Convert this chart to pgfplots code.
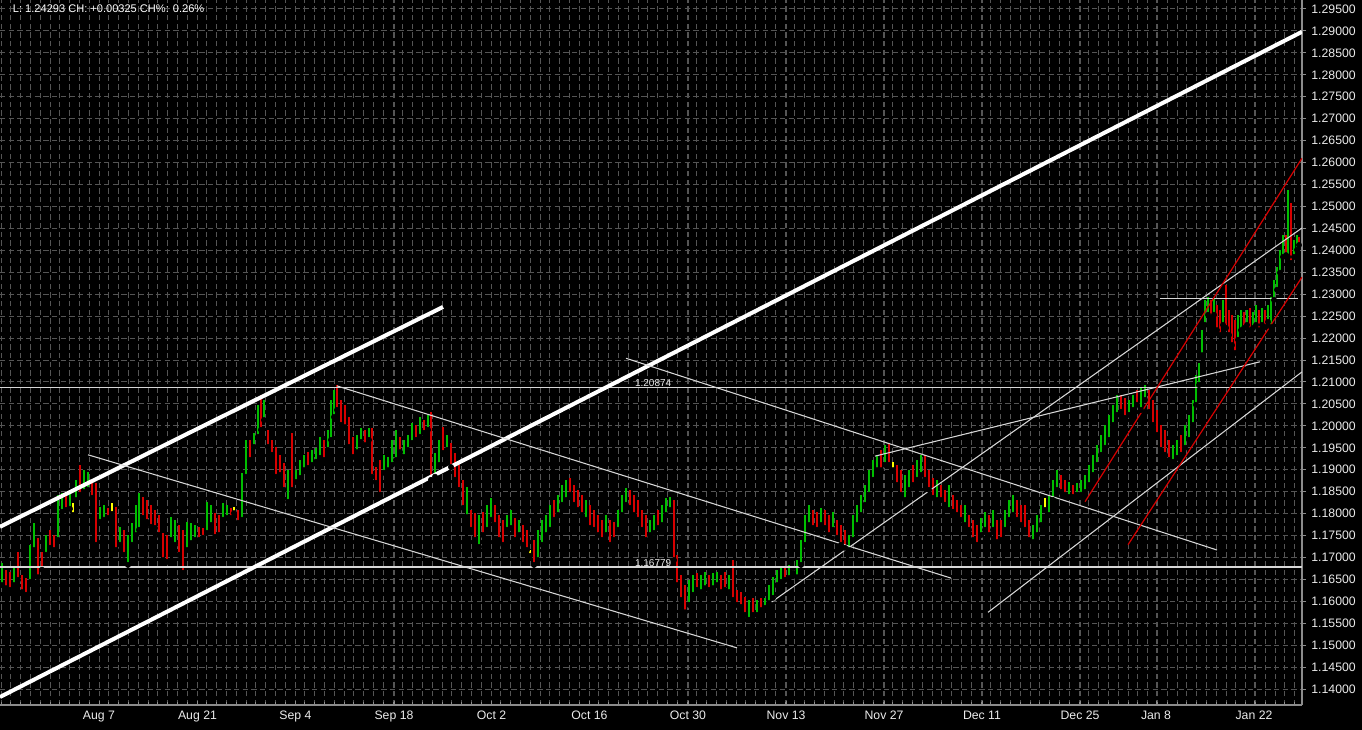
\documentclass[border=0pt]{standalone}
\usepackage{pgfplots}
\pgfplotsset{compat=1.18}
\usepackage{pgfplotstable}
\usepackage{fontspec}
\setmainfont{Liberation Sans}
\definecolor{cgreen}{RGB}{0,190,0}
\definecolor{cred}{RGB}{215,0,0}
\definecolor{cyellow}{RGB}{255,255,0}
\definecolor{gridc}{RGB}{85,85,85}
\definecolor{axc}{RGB}{140,140,140}
\definecolor{txt}{RGB}{235,235,235}
\definecolor{linec}{RGB}{215,215,215}

\pgfplotstableread{
x lo hi
2 1.1637 1.1687
14 1.1637 1.1676
30 1.1644 1.1729
34 1.1717 1.1779
46 1.1706 1.1751
58 1.1740 1.1843
62 1.1804 1.1847
70 1.1811 1.1847
76 1.1831 1.1877
84 1.1849 1.1899
88 1.1854 1.1895
100 1.1781 1.1815
104 1.1786 1.1820
120 1.1729 1.1770
128 1.1683 1.1751
132 1.1729 1.1779
136 1.1751 1.1820
139 1.1763 1.1847
171 1.1740 1.1792
175 1.1729 1.1786
187 1.1717 1.1781
191 1.1733 1.1779
195 1.1740 1.1774
207 1.1756 1.1827
211 1.1774 1.1820
223 1.1786 1.1824
227 1.1790 1.1820
242 1.1786 1.1893
246 1.1884 1.1968
254 1.1952 1.1984
258 1.1975 1.2048
264 1.2013 1.2059
288 1.1827 1.1899
296 1.1872 1.1899
300 1.1881 1.1922
304 1.1899 1.1934
312 1.1911 1.1945
316 1.1918 1.1950
320 1.1927 1.1975
328 1.1945 1.1991
331 1.1968 1.2059
334 1.2020 1.2082
357 1.1940 1.1979
361 1.1963 1.1995
369 1.1968 1.1995
384 1.1893 1.1934
388 1.1899 1.1929
392 1.1911 1.1968
396 1.1922 1.1991
404 1.1929 1.1968
408 1.1945 1.1979
412 1.1961 1.2006
420 1.1975 1.2020
428 1.1991 1.2025
435 1.1884 1.1938
439 1.1911 1.1968
447 1.1945 1.1979
467 1.1792 1.1861
479 1.1724 1.1797
487 1.1763 1.1820
491 1.1786 1.1836
507 1.1763 1.1797
511 1.1767 1.1808
519 1.1751 1.1786
538 1.1694 1.1763
542 1.1729 1.1786
546 1.1751 1.1797
550 1.1763 1.1820
558 1.1797 1.1843
562 1.1820 1.1865
566 1.1831 1.1877
586 1.1786 1.1831
606 1.1751 1.1797
618 1.1763 1.1808
622 1.1797 1.1843
626 1.1820 1.1858
650 1.1751 1.1786
654 1.1756 1.1797
662 1.1774 1.1820
666 1.1797 1.1836
670 1.1808 1.1838
689 1.1592 1.1649
693 1.1615 1.1660
701 1.1621 1.1660
705 1.1630 1.1667
713 1.1630 1.1665
717 1.1637 1.1667
729 1.1621 1.1660
749 1.1558 1.1603
757 1.1569 1.1603
765 1.1585 1.1608
769 1.1596 1.1637
773 1.1608 1.1655
777 1.1637 1.1672
781 1.1644 1.1678
789 1.1653 1.1683
797 1.1655 1.1694
801 1.1683 1.1740
805 1.1729 1.1797
809 1.1774 1.1820
821 1.1774 1.1813
833 1.1763 1.1804
849 1.1717 1.1751
853 1.1740 1.1797
857 1.1774 1.1820
861 1.1797 1.1843
865 1.1820 1.1865
869 1.1843 1.1899
873 1.1877 1.1922
877 1.1899 1.1934
885 1.1911 1.1956
905 1.1831 1.1888
909 1.1854 1.1899
917 1.1877 1.1922
921 1.1888 1.1934
937 1.1831 1.1877
949 1.1808 1.1865
965 1.1774 1.1820
981 1.1751 1.1790
985 1.1763 1.1804
993 1.1763 1.1808
1005 1.1763 1.1808
1009 1.1786 1.1831
1013 1.1797 1.1843
1033 1.1735 1.1774
1037 1.1751 1.1797
1041 1.1774 1.1820
1049 1.1797 1.1843
1053 1.1831 1.1877
1057 1.1854 1.1899
1069 1.1838 1.1872
1077 1.1843 1.1870
1081 1.1843 1.1877
1085 1.1849 1.1888
1089 1.1865 1.1911
1093 1.1888 1.1934
1097 1.1911 1.1956
1101 1.1934 1.1979
1105 1.1950 1.2002
1109 1.1968 1.2025
1113 1.2002 1.2048
1117 1.2025 1.2070
1129 1.2025 1.2059
1133 1.2036 1.2070
1141 1.2036 1.2086
1145 1.2059 1.2093
1173 1.1918 1.1956
1177 1.1927 1.1968
1185 1.1950 1.2002
1189 1.1968 1.2025
1193 1.2002 1.2059
1196 1.2048 1.2116
1199 1.2093 1.2143
1202 1.2161 1.2218
1205 1.2230 1.2287
1208 1.2253 1.2293
1214 1.2253 1.2291
1223 1.2230 1.2287
1238 1.2196 1.2253
1241 1.2218 1.2264
1247 1.2230 1.2264
1253 1.2223 1.2259
1256 1.2230 1.2275
1262 1.2230 1.2269
1268 1.2237 1.2275
1271 1.2225 1.2293
1274 1.2287 1.2332
1277 1.2310 1.2362
1280 1.2349 1.2401
1283 1.2385 1.2435
1288 1.2385 1.2537
1294 1.2385 1.2424
1297 1.2401 1.2435
}\greenbars

\pgfplotstableread{
x lo hi
6 1.1630 1.1672
10 1.1626 1.1667
18 1.1649 1.1712
22 1.1621 1.1660
26 1.1615 1.1653
38 1.1655 1.1745
42 1.1672 1.1712
50 1.1722 1.1763
54 1.1717 1.1751
66 1.1808 1.1843
80 1.1843 1.1911
92 1.1836 1.1877
96 1.1729 1.1870
108 1.1790 1.1813
116 1.1717 1.1815
124 1.1706 1.1763
143 1.1790 1.1838
147 1.1781 1.1831
151 1.1770 1.1820
155 1.1767 1.1808
159 1.1751 1.1797
163 1.1694 1.1756
167 1.1690 1.1751
179 1.1706 1.1774
183 1.1665 1.1763
199 1.1740 1.1770
203 1.1745 1.1767
215 1.1747 1.1801
219 1.1751 1.1797
231 1.1790 1.1813
238 1.1779 1.1808
250 1.1922 1.1968
261 1.1991 1.2070
268 1.1952 1.1991
272 1.1934 1.1968
276 1.1884 1.1952
280 1.1888 1.1934
284 1.1854 1.1916
292 1.1854 1.1984
308 1.1904 1.1940
324 1.1922 1.1968
337 1.2036 1.2093
341 1.2002 1.2059
345 1.1997 1.2048
349 1.1952 1.2020
353 1.1929 1.1975
365 1.1956 1.1991
372 1.1884 1.1995
376 1.1870 1.1906
380 1.1843 1.1922
400 1.1940 1.1975
416 1.1968 1.2002
424 1.1984 1.2013
431 1.1877 1.2032
443 1.1938 1.1997
451 1.1906 1.1961
455 1.1877 1.1938
459 1.1854 1.1911
463 1.1813 1.1877
471 1.1763 1.1808
475 1.1740 1.1801
483 1.1751 1.1804
495 1.1774 1.1820
499 1.1740 1.1797
503 1.1729 1.1786
515 1.1740 1.1790
523 1.1729 1.1774
527 1.1717 1.1763
534 1.1683 1.1740
554 1.1786 1.1831
570 1.1843 1.1881
574 1.1820 1.1865
578 1.1808 1.1854
582 1.1797 1.1843
590 1.1767 1.1820
594 1.1763 1.1808
598 1.1751 1.1797
602 1.1740 1.1786
610 1.1729 1.1786
614 1.1740 1.1781
630 1.1813 1.1854
634 1.1797 1.1843
638 1.1786 1.1831
642 1.1763 1.1808
646 1.1740 1.1797
658 1.1767 1.1808
674 1.1694 1.1831
677 1.1637 1.1706
681 1.1603 1.1660
685 1.1575 1.1637
697 1.1626 1.1665
709 1.1626 1.1660
721 1.1621 1.1660
725 1.1626 1.1667
733 1.1603 1.1694
737 1.1592 1.1626
741 1.1587 1.1621
745 1.1569 1.1610
753 1.1569 1.1608
761 1.1580 1.1608
785 1.1649 1.1676
813 1.1767 1.1808
817 1.1763 1.1804
825 1.1767 1.1808
829 1.1751 1.1797
837 1.1745 1.1786
841 1.1729 1.1774
845 1.1722 1.1763
881 1.1899 1.1945
889 1.1911 1.1961
897 1.1865 1.1911
901 1.1843 1.1899
913 1.1865 1.1911
925 1.1877 1.1934
929 1.1854 1.1899
933 1.1836 1.1881
941 1.1831 1.1865
945 1.1820 1.1854
953 1.1804 1.1843
957 1.1797 1.1831
961 1.1786 1.1820
969 1.1763 1.1797
973 1.1740 1.1786
977 1.1729 1.1774
989 1.1751 1.1797
997 1.1735 1.1786
1001 1.1740 1.1786
1017 1.1786 1.1831
1021 1.1774 1.1820
1025 1.1763 1.1820
1029 1.1740 1.1786
1061 1.1849 1.1888
1065 1.1843 1.1877
1073 1.1838 1.1865
1121 1.2032 1.2070
1125 1.2018 1.2064
1137 1.2048 1.2082
1149 1.2032 1.2082
1153 1.2002 1.2059
1157 1.1979 1.2036
1161 1.1945 1.2002
1165 1.1934 1.1991
1169 1.1922 1.1968
1181 1.1934 1.1979
1211 1.2246 1.2287
1217 1.2218 1.2275
1220 1.2207 1.2264
1226 1.2223 1.2321
1229 1.2207 1.2264
1232 1.2184 1.2253
1235 1.2166 1.2241
1244 1.2223 1.2259
1250 1.2218 1.2269
1259 1.2218 1.2264
1265 1.2225 1.2264
1286 1.2389 1.2435
1291 1.2371 1.2508
1299 1.2412 1.2431
}\redbars

\pgfplotstableread{
x lo hi
73 1.1797 1.1824
112 1.1799 1.1824
234 1.1801 1.1815
530 1.1704 1.1717
793 1.1665 1.1672
893 1.1899 1.1918
1045 1.1808 1.1836
}\yellowbars

\begin{document}
\begin{tikzpicture}
\fill[black] (0pt,0pt) rectangle (1021.5pt,-547.5pt);
\begin{axis}[
  at={(0pt,0pt)}, anchor=north west,
  scale only axis, width=976.5pt, height=528.75pt,
  xmin=0, xmax=1302, ymin=1.13638, ymax=1.29705,
  axis x line*=bottom, axis y line*=right,
  axis line style={axc, line width=0.9pt},
  xtick={99,197.5,295.5,394,491.5,589.5,688,786,884,982,1080,1156,1254},
  xticklabels={Aug 7,Aug 21,Sep 4,Sep 18,Oct 2,Oct 16,Oct 30,Nov 13,Nov 27,Dec 11,Dec 25,Jan 8,Jan 22},
  minor xtick={1,10.8,...,1302},
  ytick={1.140,1.145,1.150,1.155,1.160,1.165,1.170,1.175,1.180,1.185,1.190,1.195,1.200,1.205,1.210,1.215,1.220,1.225,1.230,1.235,1.240,1.245,1.250,1.255,1.260,1.265,1.270,1.275,1.280,1.285,1.290,1.295},
  yticklabels={1.14000,1.14500,1.15000,1.15500,1.16000,1.16500,1.17000,1.17500,1.18000,1.18500,1.19000,1.19500,1.20000,1.20500,1.21000,1.21500,1.22000,1.22500,1.23000,1.23500,1.24000,1.24500,1.25000,1.25500,1.26000,1.26500,1.27000,1.27500,1.28000,1.28500,1.29000,1.29500},
  yticklabel pos=right,
  ticklabel style={font=\fontsize{9.2}{10}\selectfont, text=txt},
  yticklabel style={xshift=0.5pt},
  xticklabel style={yshift=-1pt},
  xtick align=inside, ytick align=outside,
  major tick length=3pt, minor tick length=2.5pt,
  tick style={axc, line width=0.75pt},
  xmajorgrids, xminorgrids, ymajorgrids,
  major grid style={gridc, line width=0.75pt, dash pattern=on 4pt off 2.5pt},
  minor grid style={gridc, line width=0.75pt, dash pattern=on 4pt off 2.5pt},
  clip=true,
]
\addplot[only marks, mark=none, forget plot, error bars/.cd, y dir=plus, y explicit, error mark=none,
  error bar style={cgreen, line width=1.6pt}]
  table[x=x, y=lo, y error expr=\thisrow{hi}-\thisrow{lo}] {\greenbars};
\addplot[only marks, mark=none, forget plot, error bars/.cd, y dir=plus, y explicit, error mark=none,
  error bar style={cred, line width=1.6pt}]
  table[x=x, y=lo, y error expr=\thisrow{hi}-\thisrow{lo}] {\redbars};
\addplot[only marks, mark=none, forget plot, error bars/.cd, y dir=plus, y explicit, error mark=none,
  error bar style={cyellow, line width=1.6pt}]
  table[x=x, y=lo, y error expr=\thisrow{hi}-\thisrow{lo}] {\yellowbars};

% horizontal levels
\addplot[linec, line width=1.1pt] coordinates {(0,1.20874) (1302,1.20874)};
\addplot[linec, line width=1.1pt] coordinates {(0,1.16779) (1302,1.16779)};
\addplot[linec, line width=1.1pt] coordinates {(1160,1.2290) (1298,1.2290)};
% thick white channel
\addplot[white, line width=3pt] coordinates {(0,1.1770) (443,1.2271)};
\addplot[white, line width=3pt] coordinates {(0,1.1382) (1302,1.2898)};
% thin white lines
\addplot[linec, line width=0.8pt] coordinates {(337,1.2091) (951,1.1653)};
\addplot[linec, line width=0.8pt] coordinates {(88,1.1934) (737,1.1494)};
\addplot[linec, line width=0.8pt] coordinates {(626,1.2154) (1217,1.1717)};
\addplot[linec, line width=0.8pt] coordinates {(770,1.1596) (1302,1.2451)};
\addplot[linec, line width=0.8pt] coordinates {(875,1.1931) (1260,1.2146)};
\addplot[linec, line width=0.8pt] coordinates {(988,1.1575) (1302,1.2123)};
% red channel
\addplot[cred, line width=0.9pt] coordinates {(1085,1.1827) (1302,1.2610)};
\addplot[cred, line width=0.9pt] coordinates {(1128,1.1729) (1302,1.2339)};

\node[anchor=south west, font=\fontsize{7.5}{8}\selectfont, text=txt, inner sep=0.6pt] at (axis cs:634,1.20874) {1.20874};
\node[anchor=south west, font=\fontsize{7.5}{8}\selectfont, text=txt, inner sep=0.6pt] at (axis cs:634,1.16779) {1.16779};
\end{axis}
\node[anchor=west, font=\fontsize{8.3}{10}\selectfont, text=white, inner sep=0pt] at (9.5pt,-6.75pt) {L: 1.24293 CH: +0.00325 CH\%: 0.26\%};
\pgfresetboundingbox
\path (0pt,0pt) rectangle (1021.5pt,-547.5pt);
\end{tikzpicture}
\end{document}
